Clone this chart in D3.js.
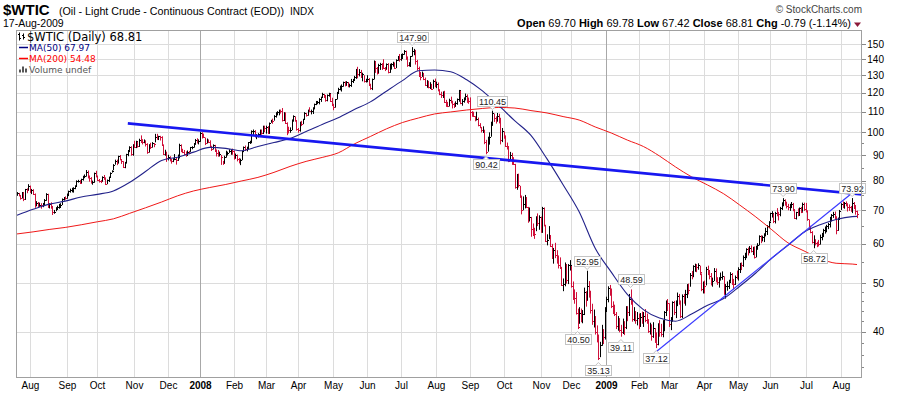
<!DOCTYPE html>
<html>
<head>
<meta charset="utf-8">
<script src="https://cdn.jsdelivr.net/npm/d3@7"></script>
<style>
  body { margin: 0; background: #fff; }
  svg { font-family: "Liberation Sans", Arial, sans-serif; }
</style>
</head>
<body>
<div id="chart"></div>
<script>
// trading calendar shown on the chart
const firstDay = "2007-07-20";
const lastDay = "2009-08-17";
const holidays = ["2007-09-03", "2007-11-22", "2007-12-25", "2008-01-01", "2008-01-21", "2008-02-18",
  "2008-03-21", "2008-05-26", "2008-07-04", "2008-09-01", "2008-11-27", "2008-12-25", "2009-01-01",
  "2009-01-19", "2009-02-16", "2009-04-10", "2009-05-25", "2009-07-03"];

// daily bars, one line per month
const high = [
  76.0,75.7,75.0,76.0,76.0,77.1,77.3,78.8,
  78.3,77.1,77.0,75.5,72.9,72.6,72.4,72.2,72.3,73.6,75.6,75.4,72.2,72.5,71.3,70.0,70.9,71.4,72.0,72.2,73.8,74.3,74.5,
  75.5,76.5,77.2,77.5,77.7,78.4,80.2,80.4,80.3,80.8,81.9,82.4,84.1,83.9,82.0,81.4,80.1,83.1,83.8,
  82.0,80.7,80.3,81.7,82.2,81.3,80.5,81.6,83.2,84.0,86.4,88.2,88.2,89.8,90.1,88.4,87.6,87.3,90.6,92.2,93.8,93.8,94.7,
  96.2,96.2,95.8,97.1,98.6,96.9,96.8,96.4,95.1,94.7,95.3,95.6,95.2,99.3,99.3,98.4,98.4,98.2,94.6,92.3,91.5,
  90.2,89.6,88.5,88.8,90.5,89.0,90.3,94.9,94.6,92.7,92.2,91.6,92.0,91.8,93.5,93.8,95.2,97.0,97.3,96.8,
  100.1,100.0,99.4,97.6,97.2,96.8,96.4,94.0,94.6,94.4,92.4,92.2,91.5,90.1,87.7,89.8,91.9,91.5,92.5,92.5,92.8,
  92.0,90.7,90.3,88.9,88.6,91.9,93.7,94.1,93.6,95.5,96.2,100.9,101.3,101.0,99.2,99.6,101.3,101.3,103.1,103.1,
  103.1,102.9,104.6,105.9,106.5,108.2,109.7,110.2,111.0,111.0,111.8,109.7,109.6,104.7,102.6,102.3,106.1,108.1,107.6,105.7,
  102.0,105.0,105.4,106.4,109.7,109.3,111.0,112.2,111.0,112.2,114.1,115.5,115.5,117.0,117.8,119.9,119.3,118.7,119.0,119.9,119.4,117.2,
  114.0,116.5,120.4,122.7,123.9,124.6,126.2,126.4,126.5,126.0,125.0,127.8,127.8,129.6,133.8,135.1,133.7,133.2,131.5,130.0,127.9,
  130.0,128.3,125.0,128.0,139.1,138.7,135.0,137.0,137.6,137.4,139.9,135.0,137.2,137.4,137.0,137.4,138.3,137.9,139.8,142.0,143.3,
  143.3,143.7,145.9,145.5,141.7,138.0,142.0,147.9,146.7,146.0,139.5,135.2,131.9,132.2,131.4,128.6,127.1,126.7,125.9,124.9,127.4,128.0,
  126.2,125.7,121.9,120.5,120.7,121.0,116.1,115.0,116.7,117.8,115.6,114.5,115.3,116.8,121.5,121.0,116.5,117.4,119.5,119.0,117.3,
  117.4,110.2,109.9,107.7,109.9,107.0,104.3,102.5,102.8,101.2,96.6,98.0,100.0,105.0,110.45,109.0,107.6,109.3,108.9,106.9,102.0,
  100.4,98.6,95.4,93.9,91.4,91.0,89.2,86.5,82.6,82.7,78.2,74.8,74.5,75.0,74.3,71.0,70.8,67.8,65.8,64.5,68.0,68.9,68.3,
  67.9,71.0,70.8,65.4,62.6,65.0,62.4,59.9,58.8,60.2,58.2,56.8,56.3,53.9,51.1,55.0,54.6,54.6,55.6,
  54.1,50.4,48.6,48.0,44.5,44.8,44.5,44.2,49.0,48.2,52.95,50.5,48.3,45.5,44.3,43.0,41.2,39.5,38.2,41.3,40.5,44.8,
  47.0,49.3,49.6,48.8,46.0,45.3,43.8,43.0,42.6,41.3,42.5,42.0,45.0,45.0,47.6,48.59,46.6,44.8,44.0,43.8,
  43.5,43.6,43.9,43.8,44.4,43.5,42.4,41.7,41.4,41.8,40.7,39.9,41.6,42.2,41.5,42.2,44.0,46.2,46.5,
  45.6,42.8,46.0,46.1,46.2,47.9,47.6,46.2,47.5,47.6,48.5,49.8,49.9,52.4,52.9,54.3,54.7,54.6,54.8,54.2,52.3,50.4,
  50.6,53.9,54.2,53.1,52.4,51.3,53.6,53.5,51.4,51.4,52.5,52.8,51.6,49.8,50.4,50.8,52.6,52.4,51.0,51.8,53.0,
  53.8,54.9,55.0,56.8,57.5,58.7,58.9,59.3,59.5,59.1,59.2,59.4,60.1,62.3,62.3,62.2,62.9,64.5,65.3,66.5,
  69.1,69.6,68.9,69.4,70.6,69.4,71.0,72.5,73.9,73.5,72.7,72.0,72.0,72.6,72.3,70.3,69.4,70.5,70.8,71.0,72.4,72.4,
  72.3,69.9,67.0,65.1,63.5,62.3,61.2,60.5,61.0,62.5,63.0,64.2,64.9,65.4,66.0,67.8,68.7,69.4,69.5,68.0,67.6,70.0,
  72.2,72.8,72.6,72.8,72.2,71.8,71.3,73.92,72.6,71.6,69.78
];
const low = [
  74.7,74.5,73.4,73.8,72.9,73.3,75.6,76.6,
  75.7,75.3,75.1,70.7,71.2,70.8,71.0,70.4,70.9,71.3,73.0,70.9,70.5,70.4,68.4,68.8,69.6,70.1,70.4,70.7,71.6,73.1,73.4,
  73.7,74.6,75.8,75.9,75.8,77.0,78.1,79.4,78.9,79.2,80.1,81.0,81.6,80.9,79.7,79.0,78.6,79.3,81.3,
  79.9,79.4,79.2,79.8,80.4,78.8,78.8,79.6,81.3,83.1,84.0,86.2,86.0,86.6,87.9,86.5,85.0,84.8,86.6,89.6,91.3,89.8,89.8,
  93.1,93.0,93.2,93.5,95.2,94.6,95.1,93.7,90.6,91.1,92.6,93.2,93.4,95.5,96.6,96.5,96.3,94.1,90.3,89.8,87.3,
  87.9,87.5,86.6,87.2,88.0,86.2,87.7,88.7,91.3,90.9,90.2,89.4,89.7,90.4,91.4,92.5,93.2,94.4,95.0,94.6,
  95.7,97.2,97.6,94.3,95.0,95.2,93.2,91.8,92.4,91.5,89.5,89.4,89.5,86.1,86.1,86.6,89.0,89.9,91.0,90.2,90.2,
  88.2,88.7,87.5,86.7,86.0,88.0,91.3,91.8,91.6,92.6,94.8,95.1,98.8,97.7,96.9,97.7,98.2,98.9,99.2,100.1,
  99.4,99.4,99.4,104.5,104.0,105.5,107.0,108.1,108.1,109.0,105.1,105.3,104.0,98.7,99.5,99.8,101.0,105.0,105.0,100.8,
  99.8,100.3,102.9,103.8,105.8,107.5,107.9,109.7,108.6,108.8,111.1,113.3,113.8,113.7,115.0,117.1,117.1,115.1,115.3,117.8,115.5,112.8,
  110.7,112.0,116.3,119.5,121.3,120.6,123.3,123.5,124.0,123.0,122.9,123.2,125.4,126.7,127.8,128.2,129.3,128.5,126.4,125.7,125.7,
  125.9,123.7,121.6,121.4,127.5,131.4,130.4,131.3,133.2,133.2,134.3,132.5,133.5,131.1,131.4,133.4,135.2,134.0,134.3,138.9,138.3,
  138.9,140.7,142.8,139.5,135.1,135.3,135.0,141.6,142.5,136.5,132.7,129.0,127.0,129.0,127.1,123.8,122.7,122.4,122.0,121.5,122.1,123.0,
  122.5,120.7,118.6,117.1,117.1,114.5,112.4,112.3,112.6,114.2,111.6,111.8,112.5,113.5,115.1,113.8,113.0,114.6,115.8,114.5,114.0,
  105.5,107.4,107.4,105.2,105.6,102.8,101.9,99.9,99.7,94.7,90.42,91.5,94.5,98.0,103.0,104.9,104.1,105.0,104.2,94.6,95.6,
  97.1,93.7,92.4,87.2,87.6,86.1,86.1,77.2,76.8,77.6,74.0,68.6,69.9,70.5,70.8,66.0,66.4,61.9,62.1,61.3,63.5,65.0,63.9,
  63.0,63.0,64.9,60.5,59.5,61.2,59.1,56.0,54.7,56.1,54.7,53.5,53.4,49.4,48.2,49.3,49.9,49.8,53.0,
  49.0,46.3,45.5,43.3,40.5,41.5,41.8,41.6,43.2,44.9,46.2,46.8,43.5,41.3,40.8,39.5,38.1,35.13,35.6,37.5,37.8,38.6,
  43.8,45.8,47.2,44.6,43.4,43.0,40.5,40.2,39.9,39.11,39.6,39.4,40.5,42.0,43.0,45.3,41.9,42.0,41.5,41.2,
  40.5,40.9,41.5,40.9,41.8,41.5,39.8,39.5,38.4,38.9,38.0,37.12,37.6,39.1,39.1,39.0,40.1,43.0,44.0,
  40.9,40.3,41.9,43.2,42.6,45.0,45.3,42.6,42.6,45.5,45.1,46.7,47.5,49.2,50.9,51.4,52.7,52.6,53.2,51.9,48.2,47.7,
  47.7,49.5,51.9,50.9,49.5,49.2,50.5,50.2,49.6,49.0,50.6,50.8,47.4,46.6,48.3,48.7,50.3,49.6,48.6,49.6,50.9,
  50.6,52.4,53.1,53.9,55.6,56.1,56.8,57.4,57.6,56.9,56.0,56.3,58.3,59.5,60.1,60.6,60.4,62.0,62.4,64.4,
  66.4,67.6,65.9,65.8,68.0,66.7,68.0,70.0,71.2,71.4,70.5,69.9,69.7,70.6,69.6,67.2,67.0,68.0,68.1,69.0,69.4,69.7,
  69.2,66.6,63.9,62.9,60.0,58.72,59.5,59.0,59.2,59.7,60.9,61.8,62.8,63.2,64.1,64.6,66.4,67.5,67.0,62.6,63.6,66.9,
  70.0,70.6,70.4,71.2,69.5,69.7,69.4,69.0,70.3,68.5,67.42
];
const close = [
  75.6,74.9,74.0,75.9,73.5,77.0,76.8,78.2,
  76.5,76.9,75.5,71.5,72.4,71.6,71.6,71.5,71.6,73.4,75.4,71.0,72.0,71.1,69.3,69.3,70.2,71.1,71.1,71.7,73.5,74.1,74.0,
  75.1,76.3,76.7,76.7,77.5,78.2,79.9,80.1,79.1,80.6,81.5,81.9,83.3,81.6,81.0,79.5,79.6,82.9,81.7,
  80.2,80.1,79.9,81.4,81.2,79.0,80.3,81.4,83.1,83.7,86.1,87.6,87.4,89.5,88.6,87.6,85.3,87.1,90.5,91.9,93.5,90.4,94.5,
  93.5,95.9,94.0,96.7,96.4,95.5,96.3,94.6,91.2,94.1,93.4,95.1,94.6,98.0,97.3,98.2,97.7,94.4,90.6,91.0,88.7,
  89.3,88.3,87.5,88.3,88.3,87.9,90.0,94.4,92.3,91.3,90.6,90.5,91.4,91.1,93.3,93.3,95.0,96.6,96.0,96.0,
  99.6,99.2,97.9,95.1,96.3,95.7,93.7,92.7,94.2,91.9,90.8,90.1,90.6,89.2,87.0,89.4,90.7,91.0,91.6,92.3,91.8,
  89.0,90.0,88.4,87.1,88.1,91.8,93.6,92.8,93.3,95.5,95.5,100.7,100.7,98.2,98.8,99.2,100.9,99.6,102.6,101.8,
  102.5,99.5,104.5,105.5,105.2,107.9,108.8,109.9,110.3,110.2,105.7,109.4,104.5,101.8,101.2,101.2,105.9,107.6,105.6,101.6,
  101.0,104.8,103.9,106.2,109.1,108.5,110.9,110.1,110.1,111.8,113.8,114.9,114.9,116.7,117.5,119.4,118.3,116.1,118.5,119.8,115.6,113.5,
  112.5,116.3,120.0,121.8,123.5,123.7,126.0,124.2,125.8,124.1,124.1,126.3,127.1,129.1,133.2,130.8,132.2,128.9,131.0,126.6,127.4,
  127.8,124.3,122.3,127.8,138.5,134.4,131.3,136.4,136.7,134.9,134.6,134.0,136.7,131.9,134.6,136.7,136.8,134.6,139.6,140.2,140.0,
  141.0,143.6,145.3,141.4,136.0,136.1,141.7,145.1,145.2,138.7,134.6,129.3,128.9,131.0,128.0,124.4,125.5,123.3,124.7,122.2,126.8,124.1,
  125.1,121.4,119.2,118.6,120.0,115.2,114.5,113.0,116.0,115.0,113.8,112.9,114.5,116.3,121.2,114.6,115.5,116.3,118.2,115.6,115.5,
  109.7,109.4,107.9,106.2,106.3,103.3,102.6,100.9,101.2,95.7,91.2,97.2,97.9,104.6,109.4,106.6,105.7,108.0,106.9,96.4,100.6,
  98.5,94.0,93.9,87.8,90.1,89.0,86.6,77.7,81.2,78.6,74.5,69.9,71.9,74.3,70.9,66.8,67.8,64.2,63.2,62.7,67.5,66.0,67.8,
  63.9,70.5,65.3,60.8,61.0,62.4,59.3,56.2,58.2,57.0,55.0,54.4,53.6,49.6,49.9,54.5,50.8,54.4,54.4,
  49.3,47.0,46.8,43.7,40.8,43.7,42.1,43.5,48.0,46.3,49.4,47.9,44.2,42.0,42.4,39.9,38.9,35.4,37.7,40.0,39.0,44.6,
  46.6,48.9,48.5,45.0,44.6,43.4,41.1,41.9,40.4,40.0,41.3,40.8,44.3,43.9,46.6,46.1,42.5,43.6,42.3,42.6,
  41.8,42.9,42.2,43.1,42.3,41.8,40.2,40.6,39.2,40.7,38.5,37.9,41.4,40.0,39.6,41.7,43.8,45.8,45.6,
  41.4,42.3,45.8,43.9,45.6,47.2,46.0,43.0,47.2,46.4,47.5,49.5,48.4,51.9,51.7,54.0,54.0,53.8,54.3,52.6,48.6,49.9,
  49.4,53.4,53.1,51.6,50.0,50.4,53.0,51.0,50.2,50.9,51.5,51.7,47.7,49.3,49.3,50.2,52.1,50.5,49.9,51.5,51.4,
  53.3,54.5,54.3,56.4,56.8,58.6,58.5,58.9,58.1,58.6,56.4,59.1,59.7,62.1,61.1,61.7,62.5,63.5,65.1,66.3,
  68.9,68.9,66.5,69.1,69.0,68.7,70.7,72.0,73.3,72.7,71.2,71.0,71.5,71.9,70.1,67.5,69.2,69.1,70.6,69.5,71.8,70.2,
  69.7,67.1,64.4,63.2,60.5,60.7,60.2,60.0,59.9,61.9,62.4,63.9,64.3,65.1,65.7,67.5,68.4,68.7,67.6,63.7,67.2,69.8,
  71.9,71.6,72.2,71.8,70.9,70.8,69.9,72.2,71.4,69.6,68.81
];
const lastOpen = 69.70;

// moving averages, read every 10 sessions plus the last session
const maStep = 10;
const ma50 = [68.3,70.2,71.9,72.9,74.3,75.2,76.4,79.4,83.5,87.9,89.2,91.3,93.3,92.9,91.9,93.7,95.4,97.2,
  100.4,103.7,106.9,111.0,115.0,120.8,126.8,132.7,133.1,132.1,127.3,120.8,113.0,105.4,98.6,88.5,78.6,69.4,
  58.7,52.6,47.5,44.3,42.6,42.0,43.4,45.2,46.6,49.3,52.4,56.1,59.5,63.2,65.4,67.0,67.9,67.97];
const ma200 = [62.7,63.3,64.0,64.6,65.4,66.3,67.2,68.9,70.7,72.6,74.7,76.4,77.6,78.7,80.0,81.3,83.2,85.5,
  87.5,89.1,91.0,94.8,98.1,101.6,104.6,106.8,108.8,109.8,110.8,111.6,112.1,111.8,110.5,109.3,107.5,105.8,
  102.5,99.7,96.5,93.7,89.7,85.3,81.5,78.5,75.4,71.6,67.8,63.9,60.2,58.0,56.0,54.8,54.6,54.48];

const yTicks = [40, 50, 60, 70, 80, 90, 100, 110, 120, 130, 140, 150];
const yMinor = [34, 36, 38, 42, 44, 46, 48, 55, 65, 75, 85, 95];

// drawn trendlines: [session, price]
const trendLong = [[69, 104.2], [526, 75.2]];
const trendUp = [[397, 36.3], [520, 75.7]];

// swing annotations
const swings = [
  ["2008-07-11", 147.90, "hi"], ["2008-09-22", 110.45, "hi"], ["2008-09-16", 90.42, "lo"],
  ["2008-12-15", 52.95, "hi"], ["2008-12-05", 40.50, "lo"], ["2008-12-24", 35.13, "lo"],
  ["2009-01-26", 48.59, "hi"], ["2009-01-15", 39.11, "lo"], ["2009-02-18", 37.12, "lo"],
  ["2009-06-11", 73.90, "hi"], ["2009-07-09", 58.72, "lo"], ["2009-08-12", 73.92, "hi"]
];

const W = 900, H = 396;
const P = { left: 16, right: 862, top: 30, bottom: 377 };
const red = "#d0103a";

const fmtDay = d3.utcFormat("%Y-%m-%d");
const days = d3.utcDay.range(new Date(firstDay), d3.utcDay.offset(new Date(lastDay), 1))
  .filter(d => d.getUTCDay() % 6 !== 0 && !holidays.includes(fmtDay(d)));
const dayIndex = new Map(days.map((d, i) => [fmtDay(d), i]));

const x = d3.scaleLinear().domain([0, days.length - 1]).range([17, 857]);
const y = d3.scaleLog().domain([32.5, 160]).range([P.bottom, P.top]);
const px = v => Math.round(v) + 0.5;
const f2 = v => v.toFixed(2);

const svg = d3.select("#chart").append("svg").attr("width", W).attr("height", H);

svg.append("clipPath").attr("id", "clip").append("rect")
  .attr("x", P.left).attr("y", P.top).attr("width", P.right - P.left).attr("height", P.bottom - P.top);

// grid
const monthStarts = d3.range(1, days.length).filter(i => days[i].getUTCMonth() !== days[i - 1].getUTCMonth());
svg.append("g").selectAll("line").data(yTicks).join("line")
  .attr("x1", P.left).attr("x2", P.right)
  .attr("y1", d => px(y(d))).attr("y2", d => px(y(d)))
  .attr("stroke", "#dcdcdc");
svg.append("g").selectAll("line").data(monthStarts).join("line")
  .attr("x1", i => px(x(i))).attr("x2", i => px(x(i)))
  .attr("y1", P.top).attr("y2", P.bottom)
  .attr("stroke", i => days[i].getUTCMonth() === 0 ? "#a8a8a8" : "#dcdcdc");

// month labels
svg.append("g").selectAll("text").data(monthStarts).join("text")
  .attr("x", i => px(x(i))).attr("y", 389)
  .attr("text-anchor", "middle").attr("font-size", 10)
  .attr("font-weight", i => days[i].getUTCMonth() === 0 ? "bold" : null)
  .text(i => days[i].getUTCMonth() === 0 ? d3.utcFormat("%Y")(days[i]) : d3.utcFormat("%b")(days[i]));

// right axis
svg.append("g").selectAll("line").data(yTicks).join("line")
  .attr("x1", P.right).attr("x2", P.right + 4)
  .attr("y1", d => px(y(d))).attr("y2", d => px(y(d))).attr("stroke", "#888");
svg.append("g").selectAll("line").data(yMinor).join("line")
  .attr("x1", P.right).attr("x2", P.right + 2)
  .attr("y1", d => px(y(d))).attr("y2", d => px(y(d))).attr("stroke", "#888");
svg.append("g").selectAll("text").data(yTicks).join("text")
  .attr("x", 884).attr("y", d => y(d) + 3.6)
  .attr("text-anchor", "end").attr("font-size", 10)
  .text(d => d);

// price bars
const bars = days.map((d, i) => ({ i, h: high[i], l: low[i], c: close[i], down: i > 0 && close[i] < close[i - 1] }));
const marks = svg.append("g").attr("clip-path", "url(#clip)");
marks.append("g").selectAll("path").data(bars).join("path")
  .attr("d", b => {
    const cx = px(x(b.i));
    return `M${cx},${y(b.h)}V${y(b.l)}M${cx - 0.5},${px(y(b.c))}h2`;
  })
  .attr("fill", "none")
  .attr("stroke", b => b.down ? red : "#000")
  .attr("stroke-width", 1);

// moving averages
const maDays = d3.range(0, days.length - 1, maStep).concat([days.length - 1]);
const maLine = d3.line().x((v, k) => x(maDays[k])).y(v => y(v)).curve(d3.curveMonotoneX);
marks.append("path").attr("d", maLine(ma200)).attr("fill", "none").attr("stroke", "#f01818").attr("stroke-width", 1);
marks.append("path").attr("d", maLine(ma50)).attr("fill", "none").attr("stroke", "#22228a").attr("stroke-width", 1.1);

// trendlines
const tl = d3.line().x(d => x(d[0])).y(d => y(d[1]));
marks.append("path").attr("d", tl(trendLong)).attr("stroke", "#1818f0").attr("stroke-width", 2.6).attr("fill", "none");
marks.append("path").attr("d", tl(trendUp)).attr("stroke", "#3a3aff").attr("stroke-width", 1.2).attr("fill", "none");

// swing labels
const lab = svg.append("g");
swings.forEach(([date, val, side]) => {
  const cx = x(dayIndex.get(date));
  const vy = y(val);
  const g = lab.append("g");
  const t = g.append("text").attr("font-size", 9).attr("fill", "#222").attr("text-anchor", "middle")
    .text(f2(val));
  const w = Math.round(t.node().getComputedTextLength()) + 3;
  const bx = Math.round(cx - w / 2) + 0.5;
  const by = side === "hi" ? Math.round(vy - 15) + 0.5 : Math.round(vy + 5) + 0.5;
  g.insert("rect", "text").attr("x", bx).attr("y", by).attr("width", w).attr("height", 10)
    .attr("fill", "#fff").attr("stroke", "#c4c4c4");
  const tipY = side === "hi" ? by + 10 : by;
  const dir = side === "hi" ? 3 : -3;
  g.append("path").attr("d", `M${cx - 3},${tipY}L${cx},${tipY + dir}L${cx + 3},${tipY}`)
    .attr("fill", "#fff").attr("stroke", "#c4c4c4");
  t.attr("x", bx + w / 2).attr("y", by + 8.5);
  t.raise();
});

// frame
svg.append("rect").attr("x", P.left + 0.5).attr("y", P.top + 0.5)
  .attr("width", P.right - P.left - 1).attr("height", P.bottom - P.top)
  .attr("fill", "none").attr("stroke", "#a0a0a0");

// legend
const last = close.length - 1;
const leg = svg.append("g").attr("font-family", '"DejaVu Sans", Verdana, sans-serif');
leg.append("path").attr("d", "M19.5,32.5V40.5M18,34.5h1.5M19.5,38.5h1.5M23.5,33.5V39.5M22,35.5h1.5M23.5,37.5h1.5")
  .attr("stroke", "#000").attr("fill", "none");
leg.append("text").attr("x", 27).attr("y", 40.5).attr("font-size", 11.5)
  .text(`$WTIC (Daily) ${f2(close[last])}`);
leg.append("line").attr("x1", 19).attr("x2", 28).attr("y1", 47.5).attr("y2", 47.5).attr("stroke", "#000080").attr("stroke-width", 1.5);
leg.append("text").attr("x", 29).attr("y", 51).attr("font-size", 9).attr("fill", "#000080")
  .text(`MA(50) ${f2(ma50[ma50.length - 1])}`);
leg.append("line").attr("x1", 19).attr("x2", 28).attr("y1", 58.5).attr("y2", 58.5).attr("stroke", "#ff0000").attr("stroke-width", 1.5);
leg.append("text").attr("x", 29).attr("y", 62).attr("font-size", 9).attr("fill", "#ff0000")
  .text(`MA(200) ${f2(ma200[ma200.length - 1])}`);
leg.append("path").attr("d", "M19,72.5v-3h2v3M22,72.5v-6h2v6M25,72.5v-4h2v4").attr("fill", "#555");
leg.append("text").attr("x", 29).attr("y", 72.5).attr("font-size", 9).attr("fill", "#555").text("Volume undef");

// titles
svg.append("text").attr("x", 3).attr("y", 15).attr("font-size", 15).attr("font-weight", "bold").text("$WTIC");
svg.append("text").attr("x", 59).attr("y", 15).attr("font-size", 10.7).text("(Oil - Light Crude - Continuous Contract (EOD))");
svg.append("text").attr("x", 290).attr("y", 15).attr("font-size", 10).text("INDX");
svg.append("text").attr("x", 3).attr("y", 27).attr("font-size", 10.5).text("17-Aug-2009");
svg.append("text").attr("x", 862).attr("y", 13).attr("font-size", 10).attr("fill", "#444")
  .attr("text-anchor", "end").text("\u00a9 StockCharts.com");

const chg = close[last] - close[last - 1];
const hdr = svg.append("text").attr("x", 851).attr("y", 27).attr("font-size", 11).attr("text-anchor", "end");
[["Open", lastOpen], ["High", high[last]], ["Low", low[last]], ["Close", close[last]]].forEach(([k, v]) => {
  hdr.append("tspan").attr("font-weight", "bold").text(k + " ");
  hdr.append("tspan").text(f2(v) + "  ");
});
hdr.append("tspan").attr("font-weight", "bold").text("Chg ");
hdr.append("tspan").text(`${f2(chg)} (${f2(chg / close[last - 1] * 100)}%)`);
svg.append("path").attr("d", "M854,22.5h7l-3.5,4.5z").attr("fill", "#8b1a3a");
</script>
</body>
</html>
